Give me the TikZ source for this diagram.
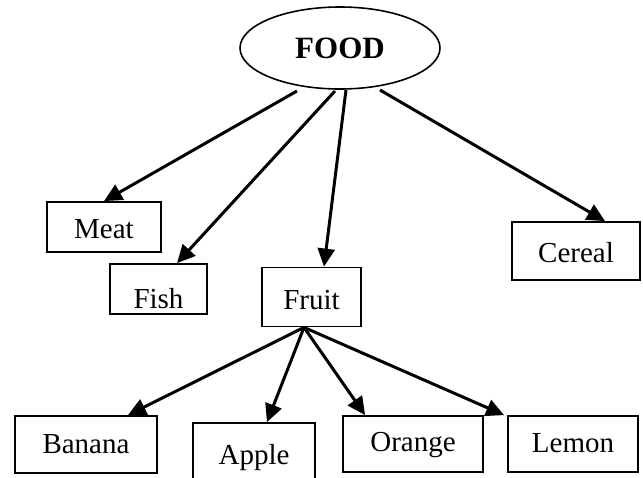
\documentclass[tikz,border=0pt]{standalone}
\usepackage{fontspec}
\setmainfont{Liberation Serif}
\usetikzlibrary{shapes.geometric,arrows.meta,calc}
\newcommand{\dn}[2]{\raisebox{-#1pt}{#2}}
\tikzset{
  box/.style={draw=black,line width=1.8pt,rectangle,inner sep=0pt,font=\fontsize{29}{34}\selectfont,text height=20pt,text depth=6pt},
  arr/.style={line width=3pt,-{Triangle[length=18pt,width=17pt]}},
}
\begin{document}
\begin{tikzpicture}[x=1pt,y=-1pt]
\useasboundingbox (0,0) rectangle (643,477);
\node[draw,ellipse,line width=1.6pt,minimum width=200pt,minimum height=82pt,inner sep=0pt,font=\fontsize{31}{34}\selectfont\bfseries] (food) at (340,48) {FOOD};
\node[box,minimum width=114pt,minimum height=50pt] (meat) at (104,227) {\dn{4}{Meat}};
\node[box,minimum width=97pt,minimum height=50pt] (fish) at (158.5,289) {\dn{12}{Fish}};
\node[box,minimum width=99pt,minimum height=59pt] (fruit) at (311.5,297) {\dn{5}{Fruit}};
\node[box,minimum width=128pt,minimum height=58pt] (cereal) at (576,251) {\dn{4}{Cereal}};
\node[box,minimum width=142pt,minimum height=57pt] (banana) at (86,444.5) {\dn{2}{Banana}};
\node[box,minimum width=122pt,minimum height=60pt] (apple) at (254,453) {\dn{4}{Apple}};
\node[box,minimum width=140pt,minimum height=56pt] (orange) at (413,444) {\dn{0}{Orange}};
\node[box,minimum width=130pt,minimum height=56pt] (lemon) at (573,444) {\dn{1}{Lemon}};
\coordinate (s1) at (297,91);
\coordinate (s2) at (335,91);
\coordinate (s3) at (346,90);
\coordinate (s4) at (380,90);
\coordinate (f0) at ($(fruit.south)+(-7.5,0)$);
\draw[arr] (s1) -- (meat.north);
\draw[arr] (s2) -- ($(fish.north)+(18.5,0)$);
\draw[arr] (s3) -- ($(fruit.north)+(12.5,0)$);
\draw[arr] (s4) -- ($(cereal.north)+(29,0)$);
\draw[arr] (f0) -- ($(banana.north)+(42,0)$);
\draw[arr] (f0) -- ($(apple.north)+(13,0)$);
\draw[arr] (f0) -- ($(orange.north west)+(23,0)$);
\draw[arr] (f0) -- ($(lemon.north west)+(-3,0)$);
\end{tikzpicture}
\end{document}
